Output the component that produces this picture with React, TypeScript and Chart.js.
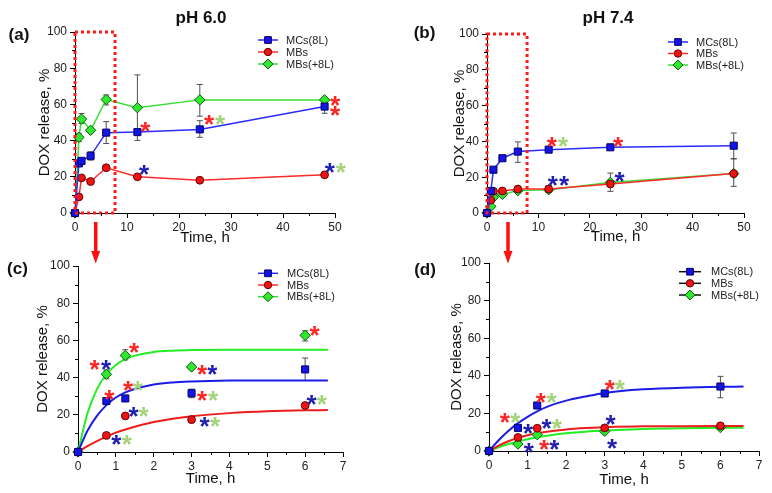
import React, { useEffect, useRef } from 'react';
import { Chart, registerables } from 'chart.js';

Chart.register(...registerables);

// ---------------- DATA ----------------
const SERIES_NAMES = ['MCs(8L)', 'MBs', 'MBs(+8L)'];
const X_TITLE = 'Time, h';
const Y_TITLE = 'DOX release, %';
const TITLE_A = 'pH 6.0';
const TITLE_B = 'pH 7.4';
const LABELS = ['(a)', '(b)', '(c)', '(d)'];

const TIMES_FULL = [0, 0.75, 1.25, 3, 6, 12, 24, 48];
const SHORT_COUNT = 5; // first 5 time points (0 - 6 h) shown in zoomed panels

// pH 6.0
const PH60_MCS = [0, 27.4, 28.8, 31.6, 44.4, 44.7, 46.2, 58.8];
const PH60_MBS = [0, 8.9, 19.4, 17.4, 25.0, 20.0, 18.1, 21.1];
const PH60_MBS8L = [0, 41.8, 51.9, 45.7, 62.7, 58.2, 62.5, 62.5];
type Err = [number, number] | null;
const PH60_MCS_ERR: Err[] = [null, null, null, [29.2, 33.8], [38.4, 50.5], null, [41.8, 51], [55.1, 62.5]];
const PH60_MBS_ERR: Err[] = [null, null, null, null, null, null, null, null];
const PH60_MBS8L_ERR: Err[] = [null, [39.4, 44], [49.5, 55], [44.4, 47], [59.7, 65.2], [40.1, 76.3], [53.5, 71], [61, 63.5]];

// pH 7.4
const PH74_MCS = [0, 12.3, 24.2, 30.6, 34.3, 35.4, 36.7, 37.6];
const PH74_MBS = [0, 7.2, 12.1, 12.3, 13.4, 13.4, 16.2, 22.0];
const PH74_MBS8L = [0, 3.7, 8.7, 10.5, 12.5, 13.0, 17.1, 22.0];
const PH74_MCS_ERR: Err[] = [null, null, null, null, [28.3, 39.7], null, null, [30.4, 44.7]];
const PH74_MBS_ERR: Err[] = [null, null, null, null, null, [11.5, 15.3], null, [14.9, 30.2]];
const PH74_MBS8L_ERR: Err[] = [null, null, null, null, null, null, [12.1, 22.3], null];

const FIT_T = [0, 0.25, 0.5, 0.75, 1, 1.25, 1.5, 2, 2.5, 3, 4, 5, 6.6];
const FIT_C_MCS = [0, 11.4, 19.4, 25.2, 29.3, 32.1, 33.9, 36.3, 37.4, 37.9, 38.4, 38.5, 38.5];
const FIT_C_MBS = [0, 3.2, 5.9, 8.3, 10.4, 12.1, 13.6, 16.1, 17.9, 19.2, 20.9, 21.9, 22.6];
const FIT_C_MBS8L = [0, 20.8, 33.8, 41.8, 46.8, 49.9, 51.8, 53.8, 54.5, 54.8, 55, 55, 55];
const FIT_D_MCS = [0, 5.7, 10.6, 14.8, 18.2, 21.1, 23.5, 26.8, 29.0, 30.9, 32.8, 33.7, 34.3];
const FIT_D_MBS = [0, 2.9, 5.2, 7.0, 8.4, 9.5, 10.3, 11.5, 12.2, 12.6, 13.1, 13.2, 13.3];
const FIT_D_MBS8L = [0, 2.0, 3.7, 5.1, 6.3, 7.3, 8.1, 9.4, 10.3, 10.9, 11.7, 12.1, 12.4];

// significance asterisks [time, value, colour key]
type Star = [number, number, 'r' | 'b' | 'g'];
const STARS_A: Star[] = [[13.5, 48.6, 'r'], [25.8, 52.3, 'r'], [27.9, 52.3, 'g'], [13.3, 24.6, 'b'], [50, 63, 'r'], [50, 57.5, 'r'], [49, 25.9, 'b'], [51.1, 25.9, 'g']];
const STARS_B: Star[] = [[12.6, 40.6, 'r'], [14.8, 40.6, 'g'], [25.5, 41, 'r'], [12.8, 19, 'b'], [15, 19, 'b'], [25.8, 21, 'b']];
const STARS_C: Star[] = [[0.44, 48.1, 'r'], [0.74, 48.1, 'b'], [1.48, 56.9, 'r'], [0.83, 31.8, 'r'], [1.32, 36.8, 'r'], [1.58, 36.8, 'g'], [1.47, 22.8, 'b'], [1.73, 22.8, 'g'], [1.01, 7.5, 'b'], [1.29, 7.5, 'g'], [3.28, 45.4, 'r'], [3.55, 45.4, 'b'], [3.28, 31.4, 'r'], [3.57, 31.4, 'g'], [3.34, 17.4, 'b'], [3.62, 17.4, 'g'], [6.25, 65.9, 'r'], [6.17, 29.1, 'b'], [6.44, 29.1, 'g']];
const STARS_D: Star[] = [[0.41, 18.8, 'r'], [0.68, 18.8, 'g'], [1.34, 29.3, 'r'], [1.62, 29.3, 'g'], [3.13, 36.1, 'r'], [3.39, 36.1, 'g'], [1.01, 12.6, 'b'], [1.49, 15.6, 'b'], [1.76, 15.6, 'g'], [1.03, 2.7, 'b'], [1.43, 4.1, 'r'], [1.69, 4.1, 'b'], [3.15, 17.4, 'b'], [3.19, 4.8, 'b']];

const RECT_END_A = 7.7; // dotted zoom-box right edge, h
const RECT_END_B = 7.8;

// ---------------- STYLE ----------------
const FONT = '"Liberation Sans", Arial, sans-serif';
const STAR_COL = { r: '#ff2424', b: '#1e1eb0', g: '#a3d47a' };
const STYLES = [
  { shape: 'rect', r: 5, fill: '#1414e6', edge: '#00006a', line: '#2a2aff', fit: '#1c1ce8' },
  { shape: 'circle', r: 3.9, fill: '#ee1414', edge: '#6a0000', line: '#ff2a2a', fit: '#ee1c1c' },
  { shape: 'rectRot', r: 5.2, fill: '#2fe82f', edge: '#0a5a0a', line: '#33e033', fit: '#22ee22' },
];

type PanelSpec = {
  left: number; top: number; width: number; height: number;
  area: { left: number; top: number; right: number; bottom: number };
  xMax: number; xStep: number; xMinor: number;
  yTitlePad: number; xTitlePad: number;
  times: number[]; series: number[][]; errors: Err[][];
  connect: boolean;
  fits?: number[][];
  stars: Star[];
  rectEnd?: number;
  legend: { x0: number; x1: number; tx: number; ys: number[]; black: boolean };
  label: { text: string; x: number; y: number };
  title?: { text: string; x: number; y: number };
};

function markerPath(ctx: CanvasRenderingContext2D, shape: string, x: number, y: number, r: number) {
  ctx.beginPath();
  if (shape === 'rect') {
    const s = Math.SQRT1_2 * r;
    ctx.rect(x - s, y - s, 2 * s, 2 * s);
  } else if (shape === 'rectRot') {
    ctx.moveTo(x - r, y); ctx.lineTo(x, y - r); ctx.lineTo(x + r, y); ctx.lineTo(x, y + r); ctx.closePath();
  } else {
    ctx.arc(x, y, r, 0, Math.PI * 2);
  }
}

function buildConfig(p: PanelSpec): any {
  const datasets: any[] = [];
  STYLES.forEach((s, i) => {
    datasets.push({
      label: SERIES_NAMES[i],
      data: p.times.map((t, j) => ({ x: t, y: p.series[i][j] })),
      showLine: p.connect,
      borderColor: s.line,
      borderWidth: 1.5,
      backgroundColor: s.fill,
      pointStyle: s.shape,
      pointRadius: s.r,
      pointHoverRadius: s.r,
      pointBackgroundColor: s.fill,
      pointBorderColor: s.edge,
      pointBorderWidth: 1,
      clip: false,
      order: i,
    });
  });
  if (p.fits) {
    p.fits.forEach((f, i) => {
      datasets.push({
        label: SERIES_NAMES[i] + ' fit',
        data: FIT_T.map((t, j) => ({ x: t, y: f[j] })),
        showLine: true,
        borderColor: STYLES[i].fit,
        borderWidth: 2,
        pointRadius: 0,
        cubicInterpolationMode: 'monotone',
        clip: false,
        order: 10 + i,
      });
    });
  }

  const overlay = {
    id: 'overlay_' + p.label.text,
    beforeDatasetsDraw(chart: any) {
      const { ctx } = chart;
      const xs = chart.scales.x, ys = chart.scales.y;
      ctx.save();
      ctx.strokeStyle = '#505050';
      ctx.lineWidth = 1;
      p.errors.forEach((errs) => {
        errs.forEach((e, j) => {
          if (!e) return;
          const x = xs.getPixelForValue(p.times[j]);
          const y0 = ys.getPixelForValue(e[0]);
          const y1 = ys.getPixelForValue(e[1]);
          ctx.beginPath();
          ctx.moveTo(x, y0); ctx.lineTo(x, y1);
          ctx.moveTo(x - 3, y0); ctx.lineTo(x + 3, y0);
          ctx.moveTo(x - 3, y1); ctx.lineTo(x + 3, y1);
          ctx.stroke();
        });
      });
      ctx.restore();
    },
    afterDatasetsDraw(chart: any) {
      const { ctx } = chart;
      const xs = chart.scales.x, ys = chart.scales.y;
      ctx.save();
      // dotted zoom box
      if (p.rectEnd !== undefined) {
        const x0 = xs.getPixelForValue(0), x1 = xs.getPixelForValue(p.rectEnd);
        const y0 = ys.getPixelForValue(100), y1 = ys.getPixelForValue(0);
        ctx.strokeStyle = '#ff1a1a';
        ctx.lineWidth = 3;
        ctx.setLineDash([3, 3]);
        ctx.strokeRect(x0, y0, x1 - x0, y1 - y0);
        ctx.setLineDash([]);
      }
      // minor ticks
      ctx.strokeStyle = '#000';
      ctx.lineWidth = 1;
      const a = chart.chartArea;
      for (let k = 0; (2 * k + 1) * p.xMinor < p.xMax; k++) {
        const px = Math.round(xs.getPixelForValue((2 * k + 1) * p.xMinor)) + 0.5;
        ctx.beginPath(); ctx.moveTo(px, a.bottom); ctx.lineTo(px, a.bottom + 3); ctx.stroke();
      }
      for (let k = 0; k < 5; k++) {
        const py = Math.round(ys.getPixelForValue(10 + 20 * k)) + 0.5;
        ctx.beginPath(); ctx.moveTo(a.left, py); ctx.lineTo(a.left - 3, py); ctx.stroke();
      }
      // asterisks
      ctx.font = 'bold 26px ' + FONT;
      ctx.textAlign = 'center';
      ctx.textBaseline = 'alphabetic';
      p.stars.forEach(([t, v, c]) => {
        ctx.fillStyle = STAR_COL[c];
        ctx.fillText('*', xs.getPixelForValue(t), ys.getPixelForValue(v) + 15);
      });
      // legend
      const L = p.legend;
      STYLES.forEach((s, i) => {
        const y = L.ys[i];
        ctx.strokeStyle = L.black ? '#111' : s.line;
        ctx.lineWidth = 1.5;
        ctx.beginPath(); ctx.moveTo(L.x0, y); ctx.lineTo(L.x1, y); ctx.stroke();
        markerPath(ctx, s.shape, (L.x0 + L.x1) / 2, y, s.r * 0.95);
        ctx.fillStyle = s.fill; ctx.fill();
        ctx.strokeStyle = s.edge; ctx.lineWidth = 1; ctx.stroke();
        ctx.fillStyle = '#222';
        ctx.font = '11px ' + FONT;
        ctx.textAlign = 'left';
        ctx.textBaseline = 'middle';
        ctx.fillText(SERIES_NAMES[i], L.tx, y + 0.5);
      });
      // panel label and title
      ctx.fillStyle = '#111';
      ctx.font = 'bold 17px ' + FONT;
      ctx.textAlign = 'center';
      ctx.textBaseline = 'middle';
      ctx.fillText(p.label.text, p.label.x, p.label.y);
      if (p.title) ctx.fillText(p.title.text, p.title.x, p.title.y);
      ctx.restore();
    },
  };

  const tickFont = { family: FONT, size: 12 };
  const titleFont = { family: FONT, size: 15 };

  return {
    type: 'scatter',
    data: { datasets },
    plugins: [overlay],
    options: {
      responsive: false,
      animation: false,
      events: [],
      layout: { padding: { left: 0, top: p.area.top, right: p.width - p.area.right, bottom: 0 } },
      plugins: { legend: { display: false }, tooltip: { enabled: false } },
      scales: {
        x: {
          type: 'linear', min: 0, max: p.xMax,
          afterFit: (s: any) => { s.height = p.height - p.area.bottom; },
          ticks: { stepSize: p.xStep, font: tickFont, color: '#222', padding: 2, maxRotation: 0, autoSkip: false },
          grid: { drawOnChartArea: false, drawTicks: true, tickLength: 5, tickColor: '#000', tickWidth: 1 },
          border: { display: true, color: '#000', width: 1 },
          title: { display: true, text: X_TITLE, font: titleFont, color: '#111', padding: { top: 0, bottom: p.xTitlePad } },
        },
        y: {
          type: 'linear', min: 0, max: 100,
          afterFit: (s: any) => { s.width = p.area.left; },
          ticks: { stepSize: 20, font: tickFont, color: '#222', padding: 3 },
          grid: { drawOnChartArea: false, drawTicks: true, tickLength: 5, tickColor: '#000', tickWidth: 1 },
          border: { display: true, color: '#000', width: 1 },
          title: { display: true, text: Y_TITLE, font: titleFont, color: '#111', padding: { top: p.yTitlePad, bottom: 0 } },
        },
      },
    },
  };
}

const first = (a: any[]) => a.slice(0, SHORT_COUNT);

const PANELS: PanelSpec[] = [
  {
    left: 0, top: 0, width: 386, height: 250,
    area: { left: 75, top: 32, right: 335, bottom: 213 },
    xMax: 50, xStep: 10, xMinor: 5, yTitlePad: 36, xTitlePad: 3.3,
    times: TIMES_FULL, series: [PH60_MCS, PH60_MBS, PH60_MBS8L], errors: [PH60_MCS_ERR, PH60_MBS_ERR, PH60_MBS8L_ERR],
    connect: true, stars: STARS_A, rectEnd: RECT_END_A,
    legend: { x0: 258, x1: 278, tx: 286, ys: [40, 52, 64], black: false },
    label: { text: LABELS[0], x: 19, y: 35.5 }, title: { text: TITLE_A, x: 201, y: 18 },
  },
  {
    left: 386, top: 0, width: 386, height: 250,
    area: { left: 101, top: 34, right: 358, bottom: 213 },
    xMax: 50, xStep: 10, xMinor: 5, yTitlePad: 65, xTitlePad: 4.3,
    times: TIMES_FULL, series: [PH74_MCS, PH74_MBS, PH74_MBS8L], errors: [PH74_MCS_ERR, PH74_MBS_ERR, PH74_MBS8L_ERR],
    connect: true, stars: STARS_B, rectEnd: RECT_END_B,
    legend: { x0: 282, x1: 302, tx: 310, ys: [42, 53.5, 65], black: false },
    label: { text: LABELS[1], x: 38.5, y: 33.5 }, title: { text: TITLE_B, x: 222, y: 18.3 },
  },
  {
    left: 0, top: 250, width: 386, height: 243,
    area: { left: 78, top: 16, right: 343, bottom: 202 },
    xMax: 7, xStep: 1, xMinor: 0.5, yTitlePad: 34.3, xTitlePad: 4.7,
    times: first(TIMES_FULL), series: [first(PH60_MCS), first(PH60_MBS), first(PH60_MBS8L)],
    errors: [first(PH60_MCS_ERR), first(PH60_MBS_ERR), first(PH60_MBS8L_ERR)],
    connect: false, fits: [FIT_C_MCS, FIT_C_MBS, FIT_C_MBS8L], stars: STARS_C,
    legend: { x0: 258, x1: 278, tx: 287, ys: [23.3, 35, 46.7], black: false },
    label: { text: LABELS[2], x: 17.5, y: 19.7 },
  },
  {
    left: 386, top: 250, width: 386, height: 243,
    area: { left: 103, top: 13, right: 373, bottom: 201 },
    xMax: 7, xStep: 1, xMinor: 0.5, yTitlePad: 62, xTitlePad: 4,
    times: first(TIMES_FULL), series: [first(PH74_MCS), first(PH74_MBS), first(PH74_MBS8L)],
    errors: [first(PH74_MCS_ERR), first(PH74_MBS_ERR), first(PH74_MBS8L_ERR)],
    connect: false, fits: [FIT_D_MCS, FIT_D_MBS, FIT_D_MBS8L], stars: STARS_D,
    legend: { x0: 293, x1: 315, tx: 325, ys: [21.7, 33.3, 45], black: true },
    label: { text: LABELS[3], x: 39, y: 20 },
  },
];

function Panel({ spec }: { spec: PanelSpec }) {
  const ref = useRef<HTMLCanvasElement>(null);
  useEffect(() => {
    const chart = new Chart(ref.current as HTMLCanvasElement, buildConfig(spec));
    return () => chart.destroy();
  }, [spec]);
  return (
    <canvas
      ref={ref}
      width={spec.width}
      height={spec.height}
      style={{ position: 'absolute', left: spec.left, top: spec.top, width: spec.width, height: spec.height, display: 'block' }}
    />
  );
}

export default function App() {
  return (
    <div style={{ position: 'absolute', left: 0, top: 0, width: 772, height: 493, background: '#fff', overflow: 'hidden' }}>
      {PANELS.map((p, i) => <Panel key={i} spec={p} />)}
      <svg width={772} height={493} style={{ position: 'absolute', left: 0, top: 0, pointerEvents: 'none' }}>
        <line x1={95.7} y1={222} x2={95.7} y2={253} stroke="#ff1010" strokeWidth={3.5} />
        <polygon points="91.2,251 100.2,251 95.7,263.5" fill="#ff1010" />
        <line x1={508} y1={222} x2={508} y2={253} stroke="#ff1010" strokeWidth={3.5} />
        <polygon points="503.5,251 512.5,251 508,263.5" fill="#ff1010" />
      </svg>
    </div>
  );
}
